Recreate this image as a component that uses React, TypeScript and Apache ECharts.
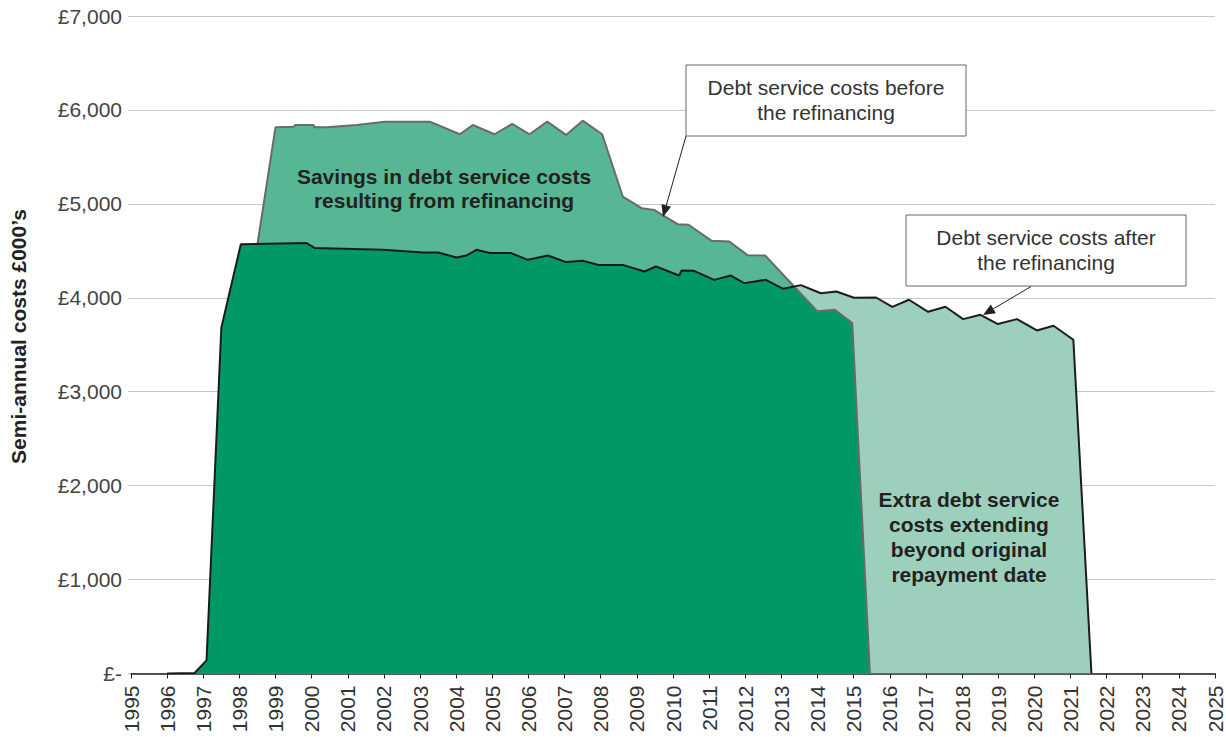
import React, { useEffect, useRef } from "react";
import * as echarts from "echarts";

// ---- Data ----
// Debt service costs before the refinancing (semi-annual, £000's)
const beforeDates = [
  1998.5, 1999.0, 1999.5, 1999.55, 2000.04, 2000.09, 2000.41, 2001.25, 2002.02, 2003.27,
  2004.1, 2004.46, 2005.06, 2005.55, 2006.03, 2006.52, 2007.04, 2007.5, 2008.04, 2008.61,
  2009.13, 2009.48, 2009.7, 2010.13, 2010.43, 2011.07, 2011.56, 2012.06, 2012.55, 2013.99,
  2014.48, 2014.96, 2015.45,
];
const beforeCosts = [
  4570, 5816, 5822, 5840, 5840, 5816, 5816, 5840, 5875, 5875,
  5741, 5840, 5741, 5851, 5741, 5875, 5734, 5886, 5741, 5078,
  4954, 4936, 4883, 4784, 4777, 4606, 4599, 4454, 4450, 3858,
  3872, 3731, 0,
];

// Debt service costs after the refinancing (semi-annual, £000's)
const afterDates = [
  1996.0, 1996.76, 1997.09, 1997.5, 1998.04, 1999.86, 2000.09, 2001.98, 2003.08, 2003.5,
  2004.01, 2004.28, 2004.56, 2004.93, 2005.52, 2005.98, 2006.54, 2007.04, 2007.5, 2007.96,
  2008.63, 2009.21, 2009.53, 2010.17, 2010.24, 2010.58, 2011.14, 2011.6, 2011.97, 2012.57,
  2013.05, 2013.54, 2014.09, 2014.52, 2015.01, 2015.62, 2016.07, 2016.53, 2017.06, 2017.54,
  2018.03, 2018.51, 2018.99, 2019.52, 2020.07, 2020.53, 2021.08, 2021.58,
];
const afterCosts = [
  0, 5, 140, 3680, 4571, 4582, 4529, 4511, 4482, 4482,
  4429, 4450, 4511, 4476, 4476, 4404, 4450, 4380, 4394, 4348,
  4348, 4280, 4333, 4237, 4290, 4287, 4191, 4237, 4156, 4191,
  4096, 4135, 4048, 4067, 4000, 4003, 3904, 3979, 3851, 3904,
  3773, 3819, 3720, 3773, 3652, 3702, 3553, 0,
];

// Year where the "after" line rises above the "before" line
const crossoverYear = 2013.35;

const yTickLabels = ["£-", "£1,000", "£2,000", "£3,000", "£4,000", "£5,000", "£6,000", "£7,000"];

const annotationBefore = "Debt service costs before\nthe refinancing";
const annotationAfter = "Debt service costs after\nthe refinancing";
const labelSavings = "Savings in debt service costs\nresulting from refinancing";
const labelExtra = "Extra debt service\ncosts extending\nbeyond original\nrepayment date";
const yAxisTitle = "Semi-annual costs £000’s";

// ---- Styles ----
const DARK = "#009966";
const MEDIUM = "#57b794";
const LIGHT = "#9dd0bc";
const CLEAR = "rgba(0,0,0,0)";
const FONT = "'Liberation Sans', Arial, Helvetica, sans-serif";

// Horizontal step fill: `left` colour up to the crossover year, `right` colour after it
function stepFill(dates: number[], left: string, right: string) {
  const f = (crossoverYear - dates[0]) / (dates[dates.length - 1] - dates[0]);
  return new echarts.graphic.LinearGradient(0, 0, 1, 0, [
    { offset: 0, color: left },
    { offset: f, color: left },
    { offset: f, color: right },
    { offset: 1, color: right },
  ]);
}

function arrow(x1: number, y1: number, x2: number, y2: number, head = 12, half = 5) {
  const dx = x2 - x1;
  const dy = y2 - y1;
  const L = Math.hypot(dx, dy);
  const ux = dx / L;
  const uy = dy / L;
  const bx = x2 - ux * head;
  const by = y2 - uy * head;
  return [
    {
      type: "line",
      z: 100,
      shape: { x1, y1, x2: bx, y2: by },
      style: { stroke: "#222", lineWidth: 1 },
    },
    {
      type: "polygon",
      z: 100,
      shape: {
        points: [
          [x2, y2],
          [bx - uy * half, by + ux * half],
          [bx + uy * half, by - ux * half],
        ],
      },
      style: { fill: "#222" },
    },
  ];
}

export default function App() {
  const ref = useRef<HTMLDivElement>(null);

  useEffect(() => {
    if (!ref.current) return;
    const chart = echarts.init(ref.current, undefined, { renderer: "svg" });

    const beforeData = beforeDates.map((d, i) => [d, beforeCosts[i]]);
    const afterData = afterDates.map((d, i) => [d, afterCosts[i]]);

    const fillOnly = {
      type: "line",
      symbol: "none",
      showSymbol: false,
      silent: true,
      lineStyle: { width: 0, opacity: 0 },
    };

    chart.setOption({
      animation: false,
      backgroundColor: "#ffffff",
      grid: { left: 131, right: 11, top: 16, bottom: 63.5, outerBoundsMode: "none" },
      xAxis: {
        type: "value",
        min: 1995,
        max: 2025,
        interval: 1,
        axisLine: { show: true, onZero: false, lineStyle: { color: "#222", width: 1.5 } },
        axisTick: { show: true, length: 5, lineStyle: { color: "#222", width: 1 } },
        splitLine: { show: false },
        axisLabel: {
          rotate: 90,
          margin: 12,
          fontSize: 21,
          lineHeight: 15,
          color: "#333",
          fontFamily: FONT,
          formatter: (v: number) => String(v),
        },
      },
      yAxis: {
        type: "value",
        min: 0,
        max: 7000,
        interval: 1000,
        axisLine: { show: false },
        axisTick: { show: true, length: 3, lineStyle: { color: "#c8c8c8" } },
        splitLine: { show: true, lineStyle: { color: "#c8c8c8", width: 1 } },
        axisLabel: {
          margin: 9,
          fontSize: 21,
          color: "#444",
          fontFamily: FONT,
          formatter: (v: number) => yTickLabels[Math.round(v / 1000)] ?? "",
        },
      },
      series: [
        {
          ...fillOnly,
          name: "After refinancing (area)",
          data: afterData,
          areaStyle: { color: LIGHT, opacity: 1 },
        },
        {
          ...fillOnly,
          name: "Before refinancing (area)",
          data: beforeData,
          areaStyle: { color: MEDIUM, opacity: 1 },
        },
        {
          ...fillOnly,
          name: "Common costs (after)",
          data: afterData,
          areaStyle: { color: stepFill(afterDates, DARK, CLEAR), opacity: 1 },
        },
        {
          ...fillOnly,
          name: "Common costs (before)",
          data: beforeData,
          areaStyle: { color: stepFill(beforeDates, CLEAR, DARK), opacity: 1 },
        },
        {
          type: "line",
          name: "Debt service costs before the refinancing",
          data: beforeData,
          symbol: "none",
          showSymbol: false,
          silent: true,
          lineStyle: { color: "#6a6a6a", width: 2 },
        },
        {
          type: "line",
          name: "Debt service costs after the refinancing",
          data: afterData,
          symbol: "none",
          showSymbol: false,
          silent: true,
          lineStyle: { color: "#1c1c1c", width: 2 },
        },
      ],
      graphic: {
        elements: [
          {
            type: "text",
            z: 100,
            x: 18.5,
            y: 336.5,
            rotation: Math.PI / 2,
            style: {
              text: yAxisTitle,
              fontSize: 21,
              fontWeight: "bold",
              fontFamily: FONT,
              fill: "#222",
              align: "center",
              verticalAlign: "middle",
            },
          },
          {
            type: "text",
            z: 100,
            x: 444,
            y: 188.7,
            style: {
              text: labelSavings,
              fontSize: 21,
              fontWeight: "bold",
              fontFamily: FONT,
              fill: "#222",
              align: "center",
              verticalAlign: "middle",
              lineHeight: 24,
            },
          },
          {
            type: "text",
            z: 100,
            x: 969,
            y: 536.7,
            style: {
              text: labelExtra,
              fontSize: 21,
              fontWeight: "bold",
              fontFamily: FONT,
              fill: "#222",
              align: "center",
              verticalAlign: "middle",
              lineHeight: 25,
            },
          },
          {
            type: "rect",
            z: 99,
            shape: { x: 686, y: 65, width: 280, height: 71 },
            style: { fill: "#ffffff", stroke: "#666", lineWidth: 1 },
          },
          {
            type: "text",
            z: 100,
            x: 826,
            y: 100,
            style: {
              text: annotationBefore,
              fontSize: 21,
              fontFamily: FONT,
              fill: "#333",
              align: "center",
              verticalAlign: "middle",
              lineHeight: 25,
            },
          },
          {
            type: "rect",
            z: 99,
            shape: { x: 906, y: 215, width: 280, height: 71 },
            style: { fill: "#ffffff", stroke: "#666", lineWidth: 1 },
          },
          {
            type: "text",
            z: 100,
            x: 1046,
            y: 249.5,
            style: {
              text: annotationAfter,
              fontSize: 21,
              fontFamily: FONT,
              fill: "#333",
              align: "center",
              verticalAlign: "middle",
              lineHeight: 25,
            },
          },
          ...arrow(686, 136, 663, 217),
          ...arrow(1031, 286.5, 983, 315),
        ],
      },
    });

    return () => {
      chart.dispose();
    };
  }, []);

  return (
    <div
      ref={ref}
      style={{ position: "absolute", left: 0, top: 0, width: 1226, height: 737, background: "#fff" }}
    />
  );
}
